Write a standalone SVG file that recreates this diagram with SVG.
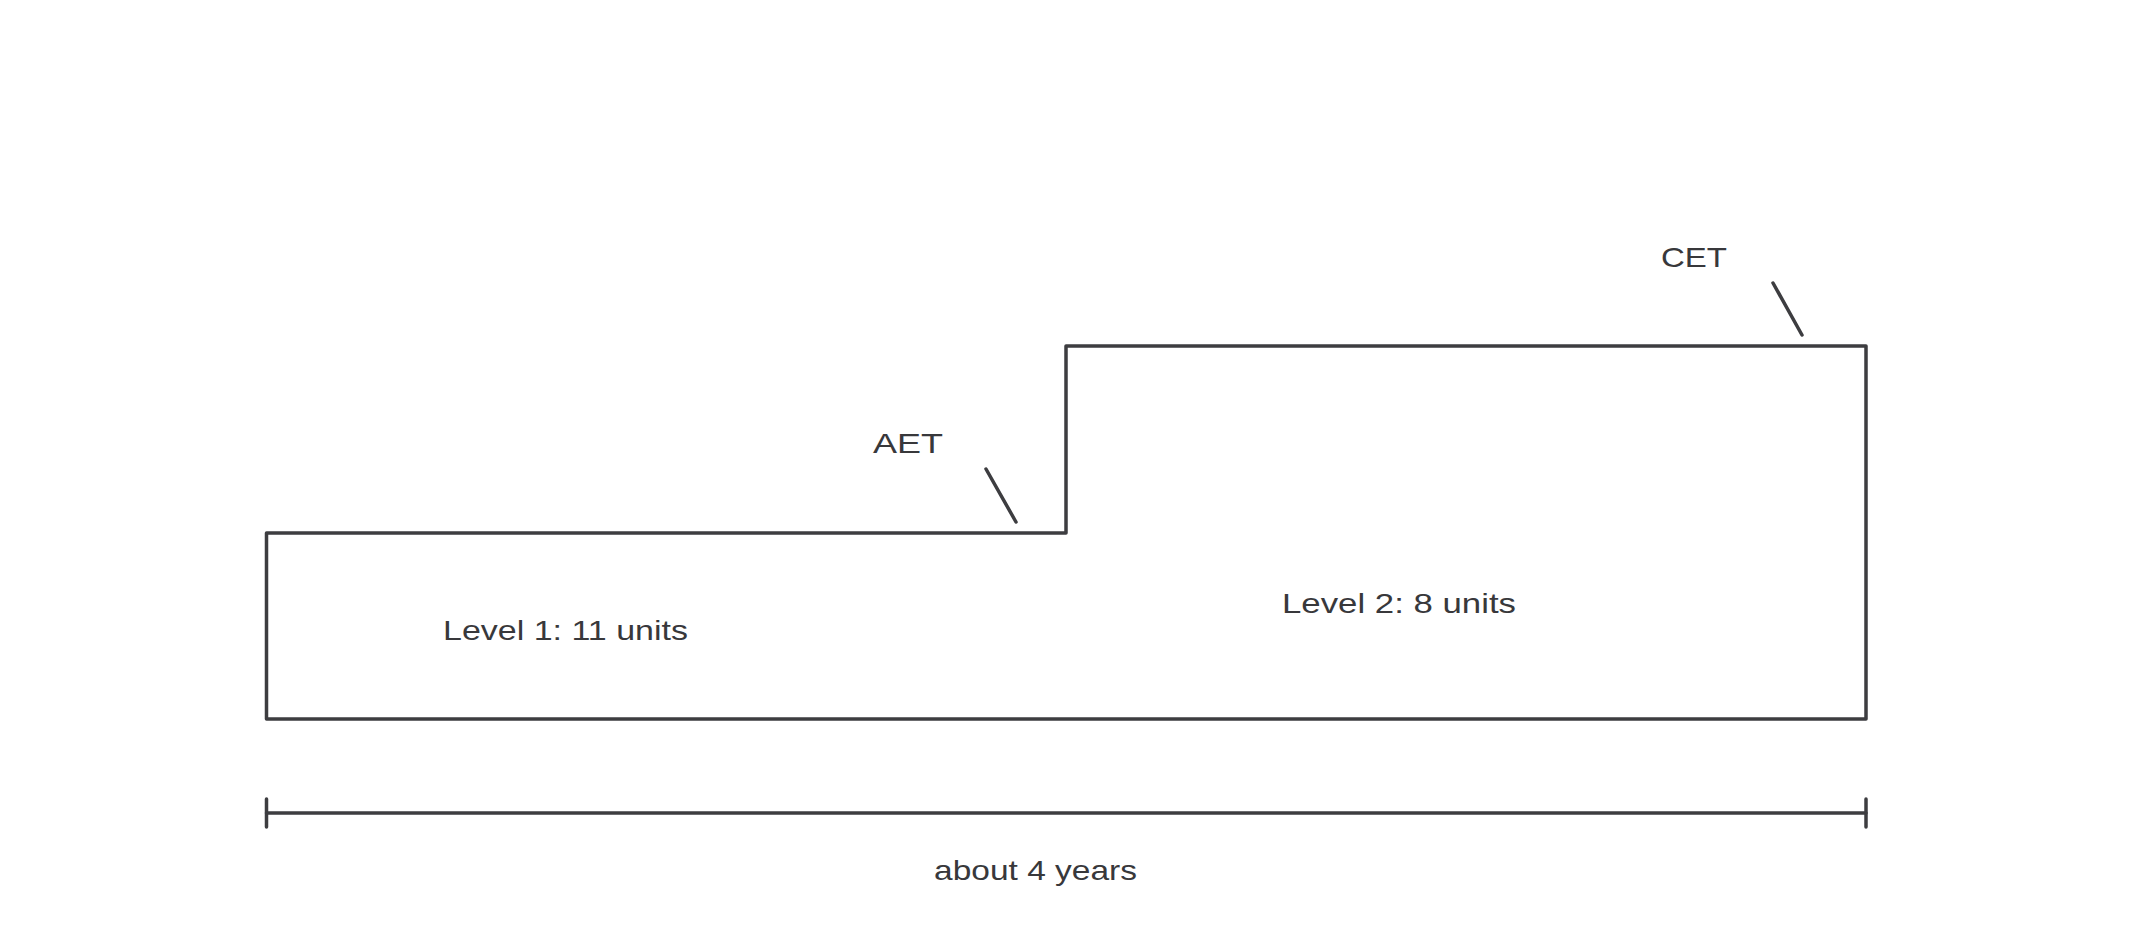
<svg xmlns="http://www.w3.org/2000/svg" width="2133" height="933" viewBox="0 0 2133 933">
<style>
.ln{fill:none;stroke:#3d3d40;stroke-width:3.5;stroke-linecap:round;stroke-linejoin:round}
.t{font-family:"Liberation Sans",Arial,sans-serif;font-size:28px;fill:#38383b;text-anchor:middle}
</style>
<rect width="2133" height="933" fill="#ffffff"/>
<g id="steps">
<path class="ln" d="M266.5,533 L1066,533 L1066,346 L1866,346 L1866,719 L266.5,719 Z"/>
</g>
<g id="connectors">
<line class="ln" x1="986" y1="469" x2="1016" y2="522"/>
<line class="ln" x1="1773" y1="283" x2="1802" y2="335"/>
</g>
<g id="timeline">
<line class="ln" x1="266.5" y1="813" x2="1866" y2="813"/>
<line class="ln" x1="266.5" y1="799" x2="266.5" y2="827"/>
<line class="ln" x1="1866" y1="799" x2="1866" y2="827"/>
</g>
<g id="labels">
<text class="t" x="908" y="453" font-size="25" textLength="70" lengthAdjust="spacingAndGlyphs">AET</text>
<text class="t" x="1694" y="267" font-size="25" textLength="66" lengthAdjust="spacingAndGlyphs">CET</text>
<text class="t" x="565.5" y="640" textLength="245" lengthAdjust="spacingAndGlyphs">Level 1: 11 units</text>
<text class="t" x="1399" y="613" textLength="234" lengthAdjust="spacingAndGlyphs">Level 2: 8 units</text>
<text class="t" x="1035.5" y="880" textLength="203" lengthAdjust="spacingAndGlyphs">about 4 years</text>
</g>
</svg>
